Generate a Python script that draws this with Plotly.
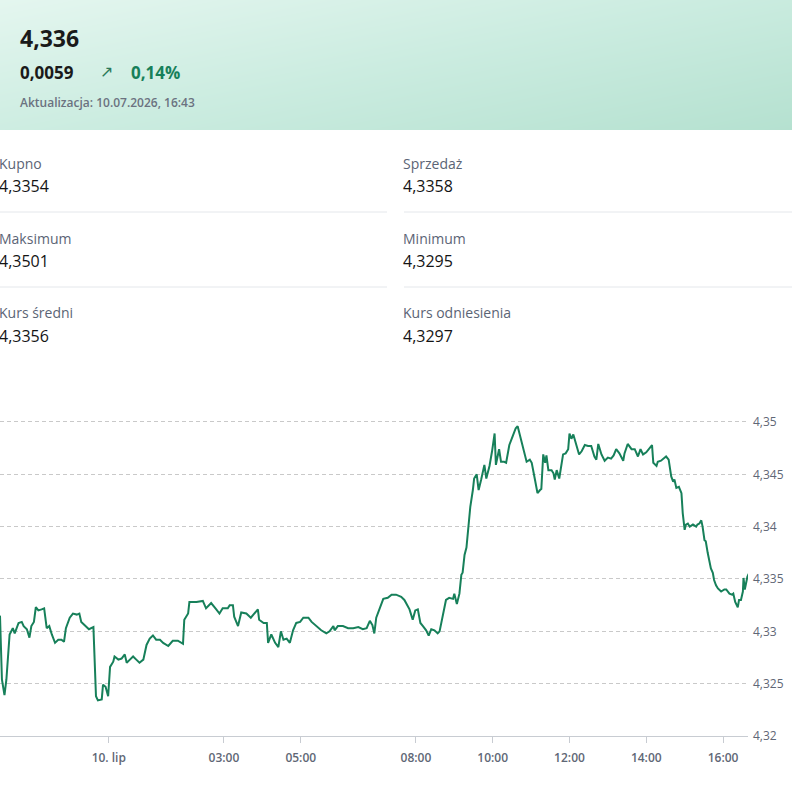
import plotly.graph_objects as go

# ---------------- data ----------------
times_09 = ["21:10","21:13","21:17","21:20","21:25","21:30","21:33","21:39","21:44","21:47",
            "21:52","21:56","21:59","22:03","22:06","22:10","22:15","22:19","22:23","22:27",
            "22:31","22:36","22:41","22:46","22:50","22:53","22:59","23:04","23:10","23:14",
            "23:17","23:23","23:29","23:36","23:40","23:43","23:49","23:51","23:55","23:59"]
times_10 = ["00:02","00:07","00:09","00:15","00:20","00:25","00:28","00:33","00:38","00:43",
            "00:48","00:54","00:59","01:04","01:09","01:14","01:20","01:25","01:33","01:40",
            "01:48","01:56","01:58","02:04","02:06","02:17","02:27","02:32","02:40","02:48",
            "02:53","02:58","03:06","03:09","03:14","03:16","03:22","03:27","03:35","03:42",
            "03:48","03:53","03:55","04:02","04:07","04:09","04:14","04:20","04:25","04:29",
            "04:33","04:38","04:43","04:48","04:53","04:59","05:04","05:12","05:17","05:25",
            "05:32","05:40","05:45","05:51","05:53","05:58","06:06","06:14","06:22","06:30",
            "06:37","06:43","06:48","06:52","06:55","06:58","07:03","07:09","07:16","07:22",
            "07:29","07:37","07:42","07:50","07:55","07:59","08:03","08:07","08:11","08:16",
            "08:20","08:24","08:29","08:34","08:37","08:42","08:47","08:52","08:58","09:00",
            "09:04","09:08","09:11","09:13","09:16","09:19","09:23","09:25","09:29","09:31",
            "09:35","09:38","09:42","09:44","09:47","09:50","09:55","09:59","10:03","10:05",
            "10:10","10:13","10:18","10:21","10:26","10:31","10:36","10:39","10:42","10:47",
            "10:53","10:58","11:01","11:06","11:10","11:14","11:16","11:19","11:22","11:24",
            "11:27","11:32","11:35","11:37","11:40","11:44","11:48","11:50","11:54","11:58",
            "12:00","12:03","12:06","12:11","12:15","12:19","12:24","12:29","12:34","12:39",
            "12:42","12:45","12:50","12:55","13:00","13:05","13:09","13:13","13:18","13:24",
            "13:26","13:31","13:37","13:42","13:47","13:51","13:55","14:00","14:05","14:09",
            "14:11","14:16","14:18","14:23","14:29","14:31","14:35","14:39","14:42","14:44",
            "14:47","14:51","14:55","14:57","15:00","15:02","15:05","15:08","15:13","15:18",
            "15:20","15:23","15:26","15:28","15:31","15:33","15:36","15:39","15:41","15:44",
            "15:46","15:49","15:52","15:57","16:02","16:05","16:07","16:10","16:14","16:16",
            "16:19","16:23","16:25","16:28","16:31","16:32","16:34","16:36","16:38","16:40"]
rate = [4.3315,4.3254,4.3239,4.3254,4.3297,4.3303,4.3298,4.3308,4.3309,4.3305,
        4.3302,4.3294,4.3305,4.3309,4.3323,4.3320,4.3321,4.3322,4.3303,4.3305,
        4.3297,4.3289,4.3292,4.3292,4.3290,4.3303,4.3313,4.3317,4.3316,4.3317,
        4.3309,4.3305,4.3302,4.3304,4.3238,4.3234,4.3235,4.3249,4.3247,4.3238,
        4.3266,4.3271,4.3276,4.3273,4.3274,4.3278,4.3270,4.3273,4.3276,4.3273,
        4.3270,4.3273,4.3287,4.3293,4.3296,4.3292,4.3292,4.3289,4.3286,4.3291,
        4.3291,4.3288,4.3311,4.3317,4.3328,4.3328,4.3329,4.3322,4.3327,4.3321,
        4.3317,4.3322,4.3322,4.3325,4.3325,4.3314,4.3305,4.3318,4.3317,4.3313,
        4.3317,4.3321,4.3311,4.3308,4.3308,4.3289,4.3297,4.3289,4.3285,4.3300,
        4.3292,4.3293,4.3289,4.3301,4.3308,4.3309,4.3313,4.3313,4.3309,4.3305,
        4.3301,4.3298,4.3300,4.3305,4.3301,4.3305,4.3305,4.3303,4.3303,4.3304,
        4.3302,4.3303,4.3310,4.3306,4.3298,4.3313,4.3322,4.3331,4.3332,4.3335,
        4.3335,4.3333,4.3330,4.3321,4.3311,4.3320,4.3321,4.3308,4.3305,4.3301,
        4.3296,4.3302,4.3301,4.3298,4.3300,4.3314,4.3330,4.3332,4.3331,4.3336,
        4.3326,4.3336,4.3354,4.3356,4.3373,4.3380,4.3407,4.3419,4.3435,4.3446,
        4.3450,4.3435,4.3445,4.3450,4.3459,4.3446,4.3458,4.3472,4.3489,4.3459,
        4.3474,4.3462,4.3462,4.3461,4.3478,4.3486,4.3494,4.3496,4.3489,4.3477,
        4.3462,4.3464,4.3461,4.3445,4.3432,4.3435,4.3436,4.3469,4.3461,4.3468,
        4.3454,4.3454,4.3451,4.3445,4.3454,4.3446,4.3462,4.3469,4.3470,4.3474,
        4.3489,4.3484,4.3488,4.3477,4.3469,4.3472,4.3478,4.3477,4.3477,4.3467,
        4.3464,4.3479,4.3469,4.3463,4.3466,4.3465,4.3468,4.3474,4.3470,4.3463,
        4.3470,4.3479,4.3474,4.3474,4.3467,4.3474,4.3469,4.3471,4.3475,4.3478,
        4.3461,4.3458,4.3462,4.3463,4.3466,4.3467,4.3464,4.3448,4.3443,4.3445,
        4.3437,4.3438,4.3432,4.3413,4.3397,4.3402,4.3403,4.3400,4.3402,4.3400,
        4.3402,4.3403,4.3406,4.3400,4.3387,4.3386,4.3375,4.3367,4.3360,4.3356,
        4.3349,4.3344,4.3341,4.3338,4.3340,4.3340,4.3338,4.3336,4.3335,4.3336,
        4.3328,4.3323,4.3330,4.3330,4.3338,4.3351,4.3340,4.3348,4.3352,4.3355]

x_tick_vals = ["2026-07-10 00:00","2026-07-10 03:00","2026-07-10 05:00","2026-07-10 08:00",
               "2026-07-10 10:00","2026-07-10 12:00","2026-07-10 14:00","2026-07-10 16:00"]
x_tick_text = ["10. lip","03:00","05:00","08:00","10:00","12:00","14:00","16:00"]
y_tick_vals = [4.32, 4.325, 4.33, 4.335, 4.34, 4.345, 4.35]

current_rate = "4,336"
change_abs = "0,0059"
change_pct = "0,14%"
updated = "Aktualizacja: 10.07.2026, 16:43"
stat_labels = ["Kupno", "Sprzedaż", "Maksimum", "Minimum", "Kurs średni", "Kurs odniesienia"]
stat_values = ["4,3354", "4,3358", "4,3501", "4,3295", "4,3356", "4,3297"]

times = ["2026-07-09 " + t for t in times_09] + ["2026-07-10 " + t for t in times_10]

# ---------------- figure ----------------
W, H = 792, 790
FONT = "Open Sans"
GREEN = "#17805a"

def py(px):
    return 1 - px / H

def pxx(px):
    return px / W

fig = go.Figure()

# header gradient background
fig.add_trace(go.Heatmap(
    z=[[0.45, 1.0], [0.0, 0.55]], x=[0, 1], y=[0, 1],
    zsmooth="best", showscale=False, hoverinfo="skip",
    colorscale=[[0, "#e4f6ef"], [0.5, "#cbece0"], [1, "#b5e1d0"]],
    xaxis="x2", yaxis="y2"))

# rate line
fig.add_trace(go.Scatter(
    x=times, y=rate, mode="lines",
    line=dict(color=GREEN, width=2),
    hoverinfo="skip", showlegend=False))

fig.update_layout(
    width=W, height=H, autosize=False,
    margin=dict(l=0, r=0, t=0, b=0, pad=0, autoexpand=False),
    paper_bgcolor="white", plot_bgcolor="white",
    separators=", ",
    font=dict(family=FONT, color="#1a1a1a"),
    showlegend=False,
    xaxis=dict(
        domain=[0, 748 / W],
        type="date",
        range=["2026-07-09 21:10", "2026-07-10 16:39"],
        tickvals=x_tick_vals, ticktext=x_tick_text,
        showgrid=False, zeroline=False,
        showline=True, linecolor="#c8ccd2", linewidth=1,
        ticks="outside", ticklen=6, tickcolor="#c8ccd2", tickwidth=1,
        ticklabelstandoff=5,
        tickfont=dict(family=FONT, size=12, color="#5f6776", weight=600),
        automargin=False,
        fixedrange=True,
    ),
    yaxis=dict(
        domain=[py(736), py(400)],
        range=[4.32, 4.3521],
        side="right",
        tickvals=y_tick_vals,
        tickformat=".3~f",
        showgrid=True, gridcolor="#c9c9c9", griddash="4px,3px", gridwidth=1,
        zeroline=False, showline=False, ticks="",
        ticklabelstandoff=4,
        tickfont=dict(family=FONT, size=12, color="#5f6776"),
        automargin=False,
        fixedrange=True,
    ),
    xaxis2=dict(domain=[0, 1], range=[0, 1], visible=False, anchor="y2", fixedrange=True),
    yaxis2=dict(domain=[py(130), 1], range=[0, 1], visible=False, anchor="x2", fixedrange=True),
)

ann = []
# header texts
ann.append(dict(text=f"<b>{current_rate}</b>", x=pxx(19), y=py(38), xanchor="left", yanchor="middle",
                font=dict(size=23, color="#1a1a1a")))
ann.append(dict(text=f"<b>{change_abs}</b>", x=pxx(19), y=py(72), xanchor="left", yanchor="middle",
                font=dict(size=17, color="#1a1a1a")))
ann.append(dict(text="↗", x=pxx(99), y=py(71), xanchor="left", yanchor="middle",
                font=dict(family="DejaVu Sans", size=16, color="#2d7a5a")))
ann.append(dict(text=f"<b>{change_pct}</b>", x=pxx(130), y=py(72), xanchor="left", yanchor="middle",
                font=dict(size=17, color=GREEN)))
ann.append(dict(text=updated, x=pxx(19), y=py(102), xanchor="left", yanchor="middle",
                font=dict(size=12, color="#6b7280", weight=600)))

# stats grid
col_x = [0, 404]
row_y = [(163, 186), (238, 261), (312, 336)]
for i, (lab, val) in enumerate(zip(stat_labels, stat_values)):
    c = i % 2
    r = i // 2
    ann.append(dict(text=lab, x=pxx(col_x[c]), y=py(row_y[r][0]), xanchor="left", yanchor="middle",
                    xshift=-2, font=dict(size=14, color="#5b6475")))
    ann.append(dict(text=val, x=pxx(col_x[c]), y=py(row_y[r][1]), xanchor="left", yanchor="middle",
                    xshift=-2, font=dict(size=16, color="#141414")))

for a in ann:
    a.update(xref="paper", yref="paper", showarrow=False, borderpad=0)
fig.update_layout(annotations=ann)

shapes = []
for yy in (212, 287):
    shapes.append(dict(type="line", xref="paper", yref="paper",
                       x0=0, x1=pxx(387), y0=py(yy), y1=py(yy),
                       line=dict(color="#e4e7eb", width=1)))
    shapes.append(dict(type="line", xref="paper", yref="paper",
                       x0=pxx(404), x1=1, y0=py(yy), y1=py(yy),
                       line=dict(color="#e4e7eb", width=1)))
fig.update_layout(shapes=shapes)

fig.write_html(
    "out.html",
    config={"displayModeBar": False, "staticPlot": True, "responsive": False},
    post_script=(
        "document.documentElement.style.margin='0';"
        "document.documentElement.style.padding='0';"
        "document.documentElement.style.overflow='hidden';"
        "document.documentElement.style.height='790px';"
        "document.body.style.margin='0';"
        "document.body.style.padding='0';"
        "document.body.style.overflow='hidden';"
        "document.body.style.height='790px';"
    ),
)
